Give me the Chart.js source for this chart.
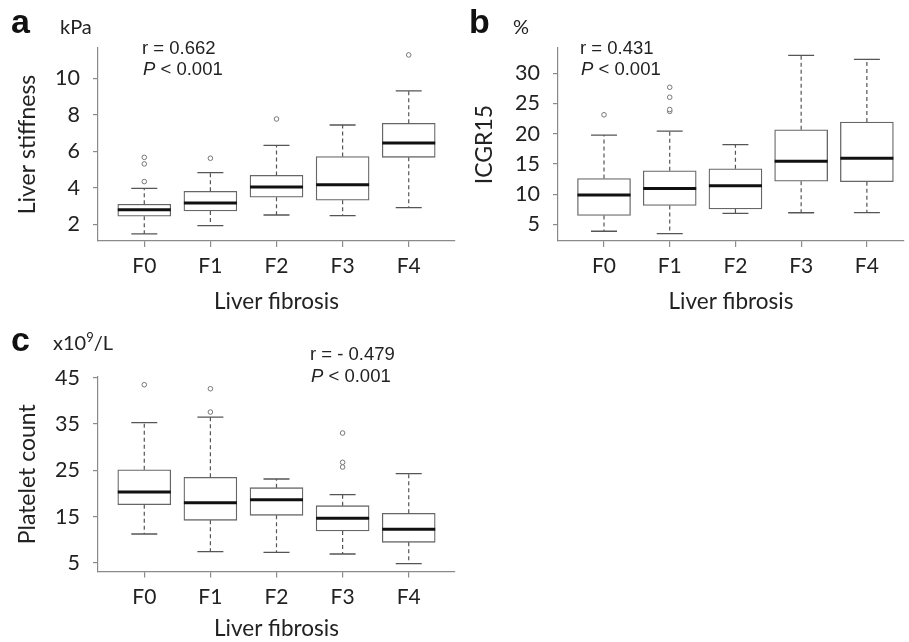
<!DOCTYPE html>
<html>
<head>
<meta charset="utf-8">
<script src="https://cdn.jsdelivr.net/npm/chart.js@4.4.1/dist/chart.umd.min.js"></script>
<style>
  body { margin: 0; background: #fff; }
  #wrap { position: relative; width: 909px; height: 642px; overflow: hidden; background: #fff; }
  canvas { position: absolute; }
  .lbl { position: absolute; white-space: nowrap; line-height: 1; color: #222; }
  .letter { font-family: "Liberation Sans", Arial, sans-serif; font-weight: bold; font-size: 34px; color: #111; }
  .unit { font-family: Lato, sans-serif; font-size: 20px; }
  .stat { font-family: "Liberation Sans", Arial, sans-serif; font-size: 18.5px; }
</style>
</head>
<body>
<div id="wrap">
  <canvas id="chartA" width="460" height="320" style="left:0;top:0"></canvas>
  <canvas id="chartB" width="449" height="320" style="left:460px;top:0"></canvas>
  <canvas id="chartC" width="460" height="322" style="left:0;top:320px"></canvas>

  <div class="lbl letter" style="left:11px;top:4px">a</div>
  <div class="lbl unit" style="left:60px;top:16px">kPa</div>
  <div class="lbl stat" style="left:142px;top:39px">r = 0.662</div>
  <div class="lbl stat" style="left:143px;top:60px"><i>P</i> &lt; 0.001</div>

  <div class="lbl letter" style="left:469px;top:4px">b</div>
  <div class="lbl unit" style="left:513px;top:16px">%</div>
  <div class="lbl stat" style="left:580px;top:39px">r = 0.431</div>
  <div class="lbl stat" style="left:581px;top:60px"><i>P</i> &lt; 0.001</div>

  <div class="lbl letter" style="left:11px;top:322px">c</div>
  <div class="lbl unit" style="left:53px;top:331px">x10<sup style="font-size:13px">9</sup>/L</div>
  <div class="lbl stat" style="left:310px;top:345px">r = - 0.479</div>
  <div class="lbl stat" style="left:311px;top:367px"><i>P</i> &lt; 0.001</div>
</div>
<script>
// Categories (fibrosis stage)
const categories = ["F0", "F1", "F2", "F3", "F4"];

// a: liver stiffness (kPa)
const stiffLow = [1.47, 1.93, 2.51, 2.47, 2.91];
const stiffQ1 = [2.44, 2.73, 3.48, 3.32, 5.67];
const stiffMed = [2.80, 3.17, 4.05, 4.17, 6.46];
const stiffQ3 = [3.10, 3.81, 4.68, 5.71, 7.53];
const stiffHigh = [3.97, 4.83, 6.33, 7.44, 9.31];
const stiffOut = [[4.34, 5.31, 5.67], [5.62], [7.77], [], [11.28]];
const stiffTicks = [2, 4, 6, 8, 10];

// b: ICGR15 (%)
const icgLow = [3.85, 3.46, 6.81, 6.92, 6.93];
const icgQ1 = [6.48, 8.13, 7.53, 12.14, 12.06];
const icgMed = [9.84, 10.93, 11.37, 15.44, 15.93];
const icgQ3 = [12.58, 13.85, 14.18, 20.66, 21.94];
const icgHigh = [19.78, 20.44, 18.19, 32.97, 32.32];
const icgOut = [[23.13], [23.7, 24.0, 26.04, 27.69], [], [], []];
const icgTicks = [5, 10, 15, 20, 25, 30];

// c: platelet count (x10^9/L)
const pltLow = [11.26, 7.45, 7.30, 6.94, 4.86];
const pltQ1 = [17.59, 14.21, 15.29, 11.91, 9.46];
const pltMed = [20.32, 18.02, 18.67, 14.64, 12.27];
const pltQ3 = [25.14, 23.49, 21.26, 17.37, 15.72];
const pltHigh = [35.29, 36.51, 23.13, 19.75, 24.28];
const pltOut = [[43.49], [37.59, 42.63], [], [25.72, 26.73, 33.06], []];
const pltTicks = [5, 15, 25, 35, 45];

const fontCal = "Lato, 'Open Sans', sans-serif";
const axisGray = "#8a8a8a";

// whiskers, caps and medians
const boxExtras = {
  id: "boxExtras",
  afterDatasetsDraw(chart) {
    const st = chart.options.plugins.boxExtras;
    const { ctx, scales } = chart;
    const xs = scales.x, ys = scales.y;
    ctx.save();
    for (let i = 0; i < categories.length; i++) {
      const cx = xs.getPixelForValue(i + 1);
      const half = 26.5, capHalf = 13;
      const yLow = ys.getPixelForValue(st.low[i]);
      const yHigh = ys.getPixelForValue(st.high[i]);
      const yQ1 = ys.getPixelForValue(st.q1[i]);
      const yQ3 = ys.getPixelForValue(st.q3[i]);
      const yMed = ys.getPixelForValue(st.med[i]);
      ctx.strokeStyle = "#555";
      ctx.lineWidth = 1.2;
      ctx.setLineDash([4, 3]);
      ctx.beginPath();
      ctx.moveTo(cx, yQ3); ctx.lineTo(cx, yHigh);
      ctx.moveTo(cx, yQ1); ctx.lineTo(cx, yLow);
      ctx.stroke();
      ctx.setLineDash([]);
      ctx.lineWidth = 1.3;
      ctx.beginPath();
      ctx.moveTo(cx - capHalf, yHigh); ctx.lineTo(cx + capHalf, yHigh);
      ctx.moveTo(cx - capHalf, yLow); ctx.lineTo(cx + capHalf, yLow);
      ctx.stroke();
      ctx.strokeStyle = "#111";
      ctx.lineWidth = 3;
      ctx.beginPath();
      ctx.moveTo(cx - half, yMed); ctx.lineTo(cx + half, yMed);
      ctx.stroke();
    }
    ctx.restore();
  }
};

function makePanel(id, cfg) {
  const outPts = [];
  cfg.out.forEach((arr, i) => arr.forEach(v => outPts.push({ x: i + 1, y: v })));
  const canvas = document.getElementById(id);
  return new Chart(canvas, {
    type: "bar",
    data: {
      datasets: [{
        data: categories.map((c, i) => ({ x: i + 1, y: [cfg.q1[i], cfg.q3[i]] })),
        backgroundColor: "#fff",
        borderColor: "#666",
        borderWidth: 1.3,
        borderSkipped: false,
        barThickness: 53,
        grouped: false
      }, {
        type: "scatter",
        data: outPts,
        pointRadius: 2.3,
        pointBorderWidth: 1,
        pointBorderColor: "#777",
        pointBackgroundColor: "#fff"
      }]
    },
    options: {
      responsive: false,
      animation: false,
      events: [],
      layout: { padding: { top: cfg.top, right: cfg.right, left: 0, bottom: 0 } },
      plugins: {
        legend: { display: false },
        tooltip: { enabled: false },
        boxExtras: cfg
      },
      scales: {
        x: {
          type: "linear",
          offset: false,
          min: 0.3,
          max: cfg.xMax,
          afterBuildTicks: s => { s.ticks = categories.map((c, i) => ({ value: i + 1 })); },
          afterFit: s => { s.height = cfg.xHeight; },
          border: { color: axisGray, width: 1.2 },
          grid: { offset: false, drawOnChartArea: false, tickLength: 6, color: axisGray, lineWidth: 1.2 },
          ticks: {
            callback: v => categories[Math.round(v) - 1],
            font: { family: fontCal, size: 21 },
            color: "#222",
            padding: 7,
            maxRotation: 0
          },
          title: {
            display: true,
            text: "Liver fibrosis",
            font: { family: fontCal, size: 22.5 },
            color: "#222",
            padding: { bottom: cfg.xTitlePad }
          }
        },
        y: {
          min: cfg.yMin,
          max: cfg.yMax,
          afterBuildTicks: s => { s.ticks = cfg.ticks.map(v => ({ value: v })); },
          afterFit: s => { s.width = 98; },
          border: { color: axisGray, width: 1.2 },
          grid: { drawOnChartArea: false, tickLength: 5, color: axisGray, lineWidth: 1.2 },
          ticks: {
            font: { family: fontCal, size: 21.5 },
            color: "#222",
            padding: 13
          },
          title: {
            display: true,
            text: cfg.title,
            font: { family: fontCal, size: 23 },
            color: "#222",
            padding: { top: cfg.yTitlePad }
          }
        }
      }
    },
    plugins: [boxExtras]
  });
}

makePanel("chartA", {
  low: stiffLow, q1: stiffQ1, med: stiffMed, q3: stiffQ3, high: stiffHigh, out: stiffOut,
  ticks: stiffTicks, yMin: 1.085, yMax: 11.66, title: "Liver stiffness",
  top: 48, right: 2, xMax: 5.7, xHeight: 79, xTitlePad: 5, yTitlePad: 14
});
makePanel("chartB", {
  low: icgLow, q1: icgQ1, med: icgMed, q3: icgQ3, high: icgHigh, out: icgOut,
  ticks: icgTicks, yMin: 2.24, yMax: 34.19, title: "ICGR15",
  top: 48, right: 0, xMax: 5.565, xHeight: 79, xTitlePad: 5, yTitlePad: 11
});
makePanel("chartC", {
  low: pltLow, q1: pltQ1, med: pltMed, q3: pltQ3, high: pltHigh, out: pltOut,
  ticks: pltTicks, yMin: 3.14, yMax: 45.16, title: "Platelet count",
  top: 57, right: 2, xMax: 5.7, xHeight: 70.4, xTitlePad: 0, yTitlePad: 14
});
</script>
</body>
</html>
